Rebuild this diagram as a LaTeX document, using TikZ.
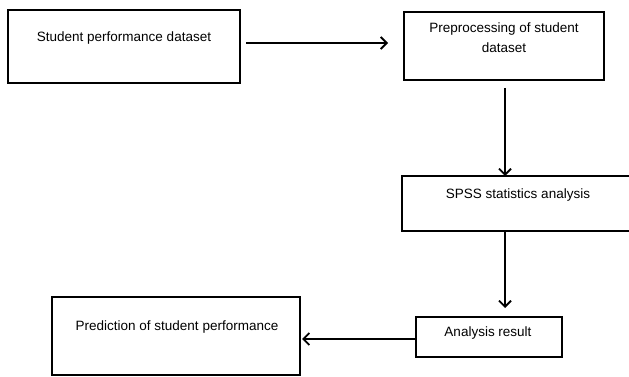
\documentclass[tikz,border=0pt]{standalone}
\usepackage{fontspec}
\setmainfont{Liberation Sans}
\usetikzlibrary{arrows.meta}
\begin{document}
\begin{tikzpicture}[x=1pt,y=-1pt,
  box/.style={draw=black,line width=2pt,minimum width=#1,inner sep=0pt},
  txt/.style={font=\fontsize{13.5}{20}\selectfont,inner sep=0pt,align=center},
  arr/.style={line width=1.8pt,-{Straight Barb[length=6pt,width=12pt,line width=1.8pt]}}]
\useasboundingbox (0,0) rectangle (629,377);
\node[box=232pt,minimum height=73pt] (b1) at (124,46.5) {};
\node[box=200pt,minimum height=68pt] (b2) at (504,46) {};
\node[box=230pt,minimum height=55pt] (b3) at (517,203.5) {};
\node[box=146pt,minimum height=40pt] (b4) at (489,337) {};
\node[box=248pt,minimum height=78pt] (b5) at (176,336) {};
\node[txt] (t1) at (124,38) {Student performance dataset};
\node[txt] (t2) at (504,38) {Preprocessing of student\\dataset};
\node[txt] (t3) at (518,195) {SPSS statistics analysis};
\node[txt] (t4) at (488,333) {Analysis result};
\node[txt] (t5) at (177,327) {Prediction of student performance};
\coordinate (a1s) at (246,43);
\coordinate (a1e) at (388,43);
\coordinate (a2s) at (505,88);
\coordinate (a2e) at (505,176);
\coordinate (a3s) at (505,231);
\coordinate (a3e) at (505,308);
\coordinate (a4s) at (416,339);
\coordinate (a4e) at (302,339);
\draw[arr] (a1s) -- (a1e);
\draw[arr] (a2s) -- (a2e);
\draw[arr] (a3s) -- (a3e);
\draw[arr] (a4s) -- (a4e);
\end{tikzpicture}
\end{document}
